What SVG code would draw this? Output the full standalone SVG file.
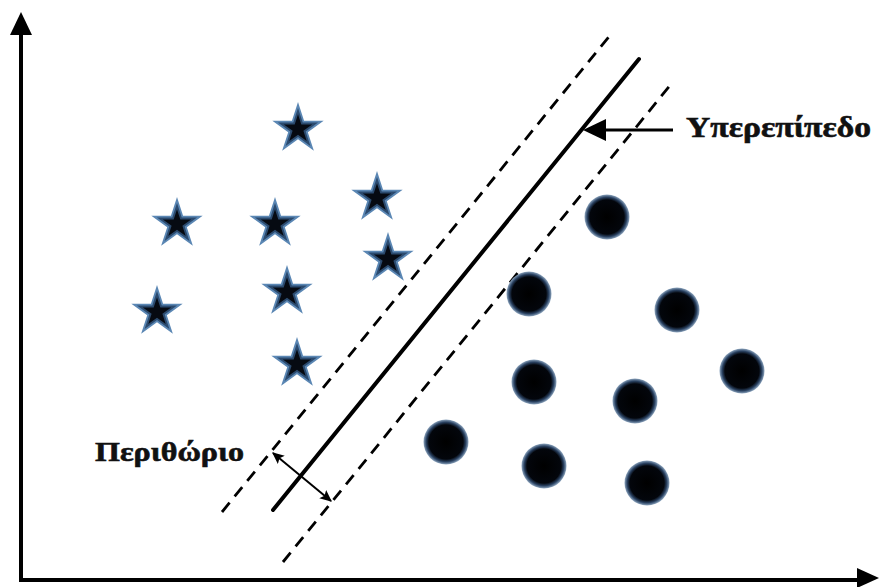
<svg xmlns="http://www.w3.org/2000/svg" xmlns:xlink="http://www.w3.org/1999/xlink" width="880" height="587" viewBox="0 0 880 587">
<style>
.axis{stroke:#000;stroke-width:4;fill:none}
.hyper{stroke:#000;stroke-width:4;stroke-linecap:round;fill:none}
.dash{stroke:#000;stroke-width:2.8;stroke-dasharray:12 8;fill:none}
.thin{stroke:#000;stroke-width:2;fill:none}
.lbl{font-family:"Liberation Serif","Times New Roman",serif;font-weight:bold;fill:#111;stroke:#111;stroke-width:0.6}
</style>
<defs>
<path id="starP" d="M0,-27 L6.05,-8.33 L25.68,-8.34 L9.80,3.18 L15.87,21.84 L0,10.3 L-15.87,21.84 L-9.80,3.18 L-25.68,-8.34 L-6.05,-8.33 Z"/>
<g id="star">
<use xlink:href="#starP" fill="#5b87b4"/>
<use xlink:href="#starP" fill="#2b4a6e" transform="scale(0.78)"/>
<use xlink:href="#starP" fill="#060a12" transform="scale(0.55)"/>
</g>
<radialGradient id="dotG" cx="0.5" cy="0.5" r="0.5">
<stop offset="0" stop-color="#000"/>
<stop offset="0.76" stop-color="#03060c"/>
<stop offset="0.88" stop-color="#2a4262"/>
<stop offset="1" stop-color="#8ea6bf"/>
</radialGradient>
<marker id="ah2" viewBox="0 0 10 10" refX="9" refY="5" markerWidth="12" markerHeight="12" orient="auto-start-reverse" markerUnits="userSpaceOnUse">
<path d="M0,0.5 L10,5 L0,9.5 L2,5 Z" fill="#000"/>
</marker>
</defs>
<rect width="880" height="587" fill="#fff"/>
<g id="connectors">
<line class="axis" x1="21" y1="582" x2="21" y2="30"/>
<polygon points="21,12 10,35 32,35" fill="#000"/>
<line class="axis" x1="19" y1="580" x2="860" y2="580"/>
<polygon points="879,578 857,568 857,588" fill="#000"/>
<line class="dash" x1="222" y1="512" x2="612" y2="33"/>
<line class="hyper" x1="273" y1="510" x2="639" y2="59"/>
<line class="dash" x1="283" y1="562" x2="672" y2="83"/>
<line class="thin" x1="273" y1="453" x2="331" y2="501" marker-start="url(#ah2)" marker-end="url(#ah2)"/>
<line stroke="#000" stroke-width="3" x1="673" y1="130" x2="600" y2="130"/>
<polygon points="583,130 606,119 606,141" fill="#000"/>
</g>
<g id="stars">
<g id="star1"><use xlink:href="#star" transform="translate(298,129)"/></g>
<g id="star2"><use xlink:href="#star" transform="translate(177,224)"/></g>
<g id="star3"><use xlink:href="#star" transform="translate(275,224)"/></g>
<g id="star4"><use xlink:href="#star" transform="translate(377,198)"/></g>
<g id="star5"><use xlink:href="#star" transform="translate(388,259)"/></g>
<g id="star6"><use xlink:href="#star" transform="translate(287,292)"/></g>
<g id="star7"><use xlink:href="#star" transform="translate(157,312)"/></g>
<g id="star8"><use xlink:href="#star" transform="translate(297,364)"/></g>
</g>
<g id="dots" fill="url(#dotG)">
<g id="dot1"><circle cx="607" cy="217" r="22.5"/></g>
<g id="dot2"><circle cx="529" cy="294" r="22.5"/></g>
<g id="dot3"><circle cx="677" cy="310" r="22.5"/></g>
<g id="dot4"><circle cx="534" cy="382" r="22.5"/></g>
<g id="dot5"><circle cx="742" cy="371" r="22.5"/></g>
<g id="dot6"><circle cx="635" cy="401" r="22.5"/></g>
<g id="dot7"><circle cx="446" cy="442" r="22.5"/></g>
<g id="dot8"><circle cx="544" cy="466" r="22.5"/></g>
<g id="dot9"><circle cx="647" cy="483" r="22.5"/></g>
</g>
<g id="label-hyperplane"><text class="lbl" x="686" y="137" font-size="30" textLength="185" lengthAdjust="spacingAndGlyphs">Υπερεπίπεδο</text></g>
<g id="label-margin"><text class="lbl" x="95" y="461" font-size="27" textLength="149" lengthAdjust="spacingAndGlyphs">Περιθώριο</text></g>
</svg>
